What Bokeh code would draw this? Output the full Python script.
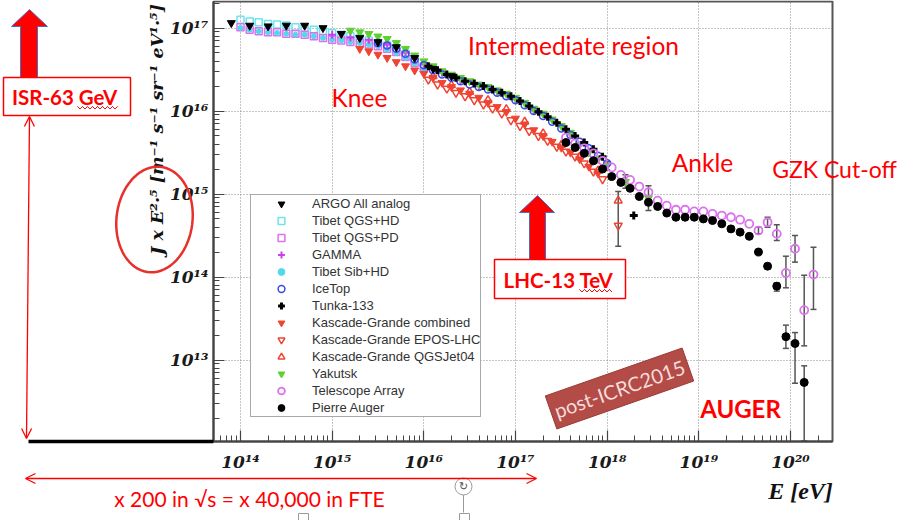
import math
import numpy as np
from bokeh.plotting import figure
from bokeh.models import (Range1d, Label, BoxAnnotation, PolyAnnotation, Arrow, OpenHead, Grid,
                          Whisker, TeeHead, Legend, LegendItem, ColumnDataSource,
                          CustomJSTickFormatter)
from bokeh.core.properties import value
from bokeh.embed import file_html
from bokeh.resources import INLINE

# ---------------- data (E in eV, flux J x E^2.5) ----------------
argo_E = [7.94e13, 1.26e14, 2.0e14, 3.16e14, 5.01e14, 7.94e14, 1.26e15, 2.0e15, 3.16e15, 5.01e15, 7.94e15, 1.26e16, 2.0e16]
argo_J = [1.15e17, 1.07e17, 1.05e17, 1.07e17, 1.07e17, 1.0e17, 8.51e16, 7.59e16, 6.76e16, 5.89e16, 4.37e16, 3.24e16, 2.63e16]

tibet_E = [1.0e14, 1.26e14, 1.58e14, 2.0e14, 2.51e14, 3.16e14, 3.98e14, 5.01e14, 6.31e14, 7.94e14, 1.0e15,
           1.26e15, 1.58e15, 2.0e15, 2.51e15, 3.16e15, 3.98e15, 5.01e15, 6.31e15, 7.94e15, 1.0e16]
tibet_qgshd_J = [1.26e17, 1.20e17, 1.17e17, 1.12e17, 1.10e17, 1.07e17, 1.02e17, 1.0e17, 9.55e16, 9.12e16, 8.71e16,
                 8.32e16, 7.94e16, 7.59e16, 7.08e16, 6.61e16, 6.17e16, 5.62e16, 4.90e16, 4.17e16, 3.47e16]
tibet_qgspd_J = [1.02e17, 9.55e16, 9.12e16, 8.91e16, 8.91e16, 8.51e16, 8.51e16, 8.32e16, 7.94e16, 7.59e16, 7.24e16,
                 7.08e16, 6.76e16, 6.61e16, 6.31e16, 6.03e16, 5.62e16, 5.13e16, 4.47e16, 3.80e16, 3.24e16]
tibet_sibhd_J = [1.0e17, 9.55e16, 9.12e16, 8.91e16, 8.71e16, 8.51e16, 8.32e16, 8.32e16, 7.94e16, 7.59e16, 7.24e16,
                 7.08e16, 6.76e16, 6.61e16, 6.31e16, 6.03e16, 5.50e16, 5.01e16, 4.37e16, 3.72e16, 3.16e16]

gamma_E = [1.0e15, 1.58e15, 2.51e15, 3.98e15, 6.31e15, 1.0e16, 1.58e16, 2.51e16, 3.98e16, 6.31e16, 1.0e17, 1.58e17]
gamma_J = [8.32e16, 7.76e16, 7.24e16, 6.46e16, 5.13e16, 3.72e16, 2.88e16, 2.34e16, 2.0e16, 1.70e16, 1.38e16, 1.02e16]

icetop_E = [3.16e15, 3.98e15, 5.01e15, 6.31e15, 7.94e15, 1.0e16, 1.26e16, 1.58e16, 2.0e16, 2.51e16, 3.16e16, 3.98e16, 5.01e16,
            6.31e16, 7.94e16, 1.0e17, 1.26e17, 1.58e17, 2.0e17, 2.51e17, 3.16e17, 3.98e17, 5.01e17, 6.31e17, 7.94e17, 1.0e18]
icetop_J = [6.61e16, 6.17e16, 5.62e16, 4.90e16, 4.17e16, 3.55e16, 3.09e16, 2.75e16, 2.51e16, 2.29e16, 2.09e16, 1.95e16, 1.82e16,
            1.66e16, 1.51e16, 1.35e16, 1.17e16, 1.0e16, 8.71e15, 7.41e15, 6.17e15, 5.13e15, 4.27e15, 3.55e15, 2.88e15, 2.34e15]

tunka_E = [1.12e16, 1.41e16, 1.78e16, 2.24e16, 2.82e16, 3.55e16, 4.47e16, 5.62e16, 7.08e16, 8.91e16, 1.12e17,
           1.41e17, 1.78e17, 2.24e17, 2.82e17, 3.55e17, 4.47e17, 5.62e17, 7.08e17, 8.91e17, 1.95e18]
tunka_J = [3.47e16, 3.09e16, 2.75e16, 2.51e16, 2.29e16, 2.14e16, 2.0e16, 1.82e16, 1.66e16, 1.51e16, 1.32e16,
           1.15e16, 9.77e15, 8.51e15, 7.24e15, 6.03e15, 5.01e15, 4.17e15, 3.47e15, 2.82e15, 5.50e14]

kg_comb_E = [2.0e15, 2.51e15, 3.16e15, 3.98e15, 5.01e15, 6.31e15, 7.94e15, 1.0e16, 1.26e16, 1.58e16, 2.0e16, 2.51e16, 3.16e16, 3.98e16,
             5.01e16, 6.31e16, 7.94e16, 1.0e17, 1.26e17, 1.58e17, 2.0e17, 2.51e17, 3.16e17, 3.98e17, 5.01e17, 6.31e17, 7.94e17]
kg_comb_J = [5.62e16, 5.25e16, 4.79e16, 4.37e16, 3.89e16, 3.47e16, 3.09e16, 2.82e16, 2.51e16, 2.19e16, 1.95e16, 1.78e16, 1.62e16, 1.45e16,
             1.26e16, 1.12e16, 9.77e15, 8.13e15, 6.92e15, 5.89e15, 5.01e15, 4.27e15, 3.63e15, 3.16e15, 2.63e15, 2.14e15, 1.78e15]

kg_epos_E = [1.12e16, 1.41e16, 1.78e16, 2.24e16, 2.82e16, 3.55e16, 4.47e16, 5.62e16, 7.08e16, 8.91e16, 1.12e17,
             1.41e17, 1.78e17, 2.24e17, 2.82e17, 3.55e17, 4.47e17, 5.62e17, 7.08e17, 8.91e17, 1.32e18]
kg_epos_J = [2.40e16, 2.09e16, 1.86e16, 1.66e16, 1.51e16, 1.35e16, 1.20e16, 1.07e16, 9.33e15, 7.76e15, 6.61e15,
             5.75e15, 5.01e15, 4.37e15, 3.72e15, 3.24e15, 2.82e15, 2.34e15, 1.86e15, 1.51e15, 4.17e14]

kg_qgs_E = [1.26e16, 2.0e16, 3.16e16, 5.01e16, 7.94e16, 1.26e17, 2.0e17, 3.16e17, 5.01e17, 7.94e17, 1.32e18]
kg_qgs_J = [2.63e16, 2.04e16, 1.70e16, 1.35e16, 1.05e16, 7.41e15, 5.37e15, 3.89e15, 2.82e15, 1.91e15, 8.32e14]

kg_err_E = [1.32e18]
kg_err_hi = [1.07e15]
kg_err_lo = [2.34e14]

yak_E = [1.58e15, 2.0e15, 2.51e15, 3.16e15, 3.98e15, 5.01e15, 6.31e15, 7.94e15, 1.0e16, 1.26e16, 1.58e16, 2.0e16, 2.51e16, 3.16e16,
         3.98e16, 5.01e16, 6.31e16, 7.94e16, 1.0e17, 1.26e17, 1.58e17, 2.0e17, 2.51e17, 3.16e17, 3.98e17, 5.01e17, 6.31e17,
         7.94e17, 1.0e18, 1.58e18, 2.82e18]
yak_J = [9.33e16, 8.91e16, 8.51e16, 7.94e16, 7.41e16, 6.61e16, 5.62e16, 4.68e16, 3.98e16, 3.47e16, 3.02e16, 2.75e16, 2.51e16, 2.29e16,
         2.09e16, 1.95e16, 1.78e16, 1.62e16, 1.45e16, 1.26e16, 1.07e16, 9.33e15, 7.94e15, 6.61e15, 5.50e15, 3.98e15, 3.16e15,
         2.63e15, 2.19e15, 1.41e15, 8.91e14]
yak_err_E = [1.0e18, 1.58e18, 2.82e18]
yak_err_hi = [2.45e15, 1.70e15, 1.26e15]
yak_err_lo = [1.95e15, 1.17e15, 6.31e14]

ta_E = [3.55e17, 4.47e17, 5.62e17, 7.08e17, 8.91e17, 1.12e18, 1.41e18, 1.78e18, 2.24e18, 2.82e18, 3.55e18, 4.47e18, 5.62e18, 7.08e18,
        8.91e18, 1.12e19, 1.41e19, 1.78e19, 2.24e19, 2.82e19, 3.55e19, 4.47e19, 5.62e19, 7.08e19, 8.91e19, 1.12e20, 1.41e20, 1.78e20]
ta_J = [4.79e15, 4.07e15, 3.55e15, 3.09e15, 2.51e15, 2.09e15, 1.70e15, 1.48e15, 1.23e15, 1.05e15, 8.32e14, 7.24e14, 6.46e14, 6.46e14,
        6.17e14, 6.17e14, 5.75e14, 5.50e14, 5.25e14, 4.90e14, 4.37e14, 3.63e14, 4.57e14, 3.31e14, 1.12e14, 2.19e14, 3.98e13, 1.07e14]
ta_err_E = [4.47e19, 5.62e19, 7.08e19, 8.91e19, 1.12e20, 1.41e20, 1.78e20]
ta_err_hi = [3.98e14, 5.25e14, 4.27e14, 1.78e14, 3.16e14, 1.05e14, 2.29e14]
ta_err_lo = [3.31e14, 3.98e14, 2.75e14, 7.41e13, 1.51e14, 1.48e13, 4.07e13]

auger_E = [3.55e17, 4.47e17, 5.62e17, 7.08e17, 8.91e17, 1.12e18, 1.41e18, 1.78e18, 2.24e18, 2.82e18, 3.55e18, 4.47e18, 5.62e18, 7.08e18,
           8.91e18, 1.12e19, 1.41e19, 1.78e19, 2.24e19, 2.82e19, 3.55e19, 4.47e19, 5.62e19, 7.08e19, 8.91e19, 1.12e20, 1.41e20]
auger_J = [4.17e15, 3.63e15, 3.09e15, 2.51e15, 2.0e15, 1.62e15, 1.38e15, 1.17e15, 9.33e14, 7.94e14, 7.08e14, 5.89e14, 5.25e14, 5.25e14,
           5.25e14, 5.01e14, 4.79e14, 4.37e14, 3.80e14, 3.47e14, 3.09e14, 2.0e14, 1.35e14, 7.76e13, 1.91e13, 1.58e13, 5.37e12]
auger_err_E = [5.62e19, 7.08e19, 8.91e19, 1.12e20, 1.41e20]
auger_err_hi = [1.45e14, 8.51e13, 2.63e13, 2.14e13, 8.51e12]
auger_err_lo = [1.26e14, 6.76e13, 1.38e13, 5.25e12, 1.06e12]

legend_labels = ["ARGO All analog", "Tibet QGS+HD", "Tibet QGS+PD", "GAMMA", "Tibet Sib+HD", "IceTop", "Tunka-133",
                 "Kascade-Grande combined", "Kascade-Grande EPOS-LHC", "Kascade-Grande QGSJet04", "Yakutsk",
                 "Telescope Array", "Pierre Auger"]

x_decades = [1e14, 1e15, 1e16, 1e17, 1e18, 1e19, 1e20]
y_decades = [1e13, 1e14, 1e15, 1e16, 1e17]


# slide-pixel helpers (slide is 899x520); used to place the chart frame and slide annotations
def ex(px):
    return 10 ** (14 + (px - 240) / 91.67)


def jy(py):
    return 10 ** (17 - (py - 27.5) / 83.0)


FL, FR, FT, FB = 213, 832, 1, 441   # chart frame on the slide

W, H = 899, 520
p = figure(width=W, height=H, x_axis_type="log", y_axis_type="log",
           x_range=Range1d(ex(0), ex(W)), y_range=Range1d(jy(H), jy(0)),
           output_backend="svg", toolbar_location=None,
           min_border_left=0, min_border_right=0, min_border_top=0, min_border_bottom=0)
p.background_fill_color = "white"
p.border_fill_color = "white"
p.outline_line_color = None

fmt = CustomJSTickFormatter(code="""
const sup = {"0":"\u2070","1":"\u00b9","2":"\u00b2","3":"\u00b3","4":"\u2074","5":"\u2075","6":"\u2076","7":"\u2077","8":"\u2078","9":"\u2079","-":"\u207b"};
const e = Math.round(Math.log10(tick));
return "10" + String(e).split("").map(c => sup[c]).join("");
""")
xa, ya = p.xaxis[0], p.yaxis[0]
xa.fixed_location = jy(FB)
ya.fixed_location = ex(FL)
xa.bounds = (ex(FL), ex(FR))
ya.bounds = (jy(FB), jy(FT))
for ax in (xa, ya):
    ax.formatter = fmt
    ax.major_label_text_font = "DejaVu Serif"
    ax.major_label_text_font_style = "bold italic"
    ax.major_label_text_font_size = "17px"
    ax.major_label_text_color = "#1a1a1a"
    ax.axis_line_color = "#444444"
    ax.axis_line_width = 2
    ax.major_tick_in = 11
    ax.major_tick_out = 0
    ax.minor_tick_in = 6
    ax.minor_tick_out = 0
    ax.major_tick_line_color = "#444444"
    ax.minor_tick_line_color = "#444444"
    ax.major_tick_line_width = 1.2
xa.major_label_standoff = 10
ya.major_label_standoff = 5

grid_ok = "cross_bounds" in Grid.properties()
for g in (p.xgrid[0], p.ygrid[0]):
    g.grid_line_color = "#8a8a8a" if grid_ok else None
    g.grid_line_dash = "1 2"
    g.grid_line_width = 1
if grid_ok:
    p.xgrid[0].bounds = (ex(FL), ex(FR))
    p.xgrid[0].cross_bounds = (jy(FB), jy(FT))
    p.ygrid[0].bounds = (jy(FB), jy(FT))
    p.ygrid[0].cross_bounds = (ex(FL), ex(FR))
else:
    p.segment(x0=x_decades, x1=x_decades, y0=[jy(FB)] * len(x_decades), y1=[jy(FT)] * len(x_decades),
              line_color="#8a8a8a", line_dash="1 2", line_width=1)
    p.segment(x0=[ex(FL)] * len(y_decades), x1=[ex(FR)] * len(y_decades), y0=y_decades, y1=y_decades,
              line_color="#8a8a8a", line_dash="1 2", line_width=1)

# chart frame
p.add_layout(BoxAnnotation(left=ex(FL), right=ex(FR), top=jy(FT), bottom=jy(FB), fill_alpha=0,
                           line_color="#555555", line_alpha=1, line_width=2, level="underlay"))

RED = "#f04433"
r_tqhd = p.scatter(tibet_E, tibet_qgshd_J, marker="square", size=7, fill_color=None, line_color="#6fe3ef", line_width=1.5)
r_tqpd = p.scatter(tibet_E, tibet_qgspd_J, marker="square", size=7, fill_color=None, line_color="#df6ff0", line_width=1.5)
r_tsib = p.scatter(tibet_E, tibet_sibhd_J, marker="circle", size=5, fill_color="#52d8e8", line_color="#52d8e8")
r_gam = p.scatter(gamma_E, gamma_J, marker="cross", size=8, line_color="#c93ef0", line_width=2)
r_kgc = p.scatter(kg_comb_E, kg_comb_J, marker="inverted_triangle", size=8, fill_color=RED, line_color=RED)
r_kge = p.scatter(kg_epos_E, kg_epos_J, marker="inverted_triangle", size=8, fill_color=None, line_color=RED, line_width=1.5)
r_kgq = p.scatter(kg_qgs_E, kg_qgs_J, marker="triangle", size=8, fill_color=None, line_color=RED, line_width=1.5)
r_yak = p.scatter(yak_E, yak_J, marker="inverted_triangle", size=8, fill_color="#5ed12e", line_color="#5ed12e")
r_ice = p.scatter(icetop_E, icetop_J, marker="circle", size=7, fill_color=None, line_color="#3a48ee", line_width=1.5)
r_tun = p.scatter(tunka_E, tunka_J, marker="cross", size=8, line_color="black", line_width=3)
r_argo = p.scatter(argo_E, argo_J, marker="inverted_triangle", size=8, fill_color="black", line_color="black")
r_ta = p.scatter(ta_E, ta_J, marker="circle", size=8, fill_color=None, line_color="#dc73ee", line_width=1.8)
r_aug = p.scatter(auger_E, auger_J, marker="circle", size=8, fill_color="black", line_color="black")

for eE, hi, lo in ((kg_err_E, kg_err_hi, kg_err_lo), (yak_err_E, yak_err_hi, yak_err_lo),
                   (ta_err_E, ta_err_hi, ta_err_lo), (auger_err_E, auger_err_hi, auger_err_lo)):
    src = ColumnDataSource(dict(base=eE, upper=hi, lower=lo))
    p.add_layout(Whisker(base="base", upper="upper", lower="lower", source=src, dimension="height",
                         line_color="#555555", line_width=1.5,
                         upper_head=TeeHead(size=6, line_color="#555555", line_width=1.5),
                         lower_head=TeeHead(size=6, line_color="#555555", line_width=1.5)))

renderers = [r_argo, r_tqhd, r_tqpd, r_gam, r_tsib, r_ice, r_tun, r_kgc, r_kge, r_kgq, r_yak, r_ta, r_aug]
legend = Legend(items=[LegendItem(label=l, renderers=[r]) for l, r in zip(legend_labels, renderers)],
                location=(250, 103), orientation="vertical",
                label_text_font="Liberation Sans", label_text_font_size="13px", label_text_color="#333333",
                glyph_width=60, glyph_height=17, label_height=17, label_standoff=1, spacing=0, padding=0,
                margin=0, border_line_color="#555555", border_line_width=1, background_fill_color="white",
                background_fill_alpha=1)
p.add_layout(legend)


# --------------- slide annotations ---------------
def pts(seq):
    return [ex(a) for a, b in seq], [jy(b) for a, b in seq]


def text(t, x, y, size, color="#ff0000", font="Lato", style="normal", angle=0.0):
    p.add_layout(Label(x=ex(x), y=jy(y), text=t, text_font=font, text_font_style=style,
                       text_font_size=f"{size}px", text_color=color, text_align="center",
                       text_baseline="middle", angle=angle))


# axis titles
text("J x E\u00b2\u00b7\u2075 [m\u207b\u00b9 s\u207b\u00b9 sr\u207b\u00b9 eV\u00b9\u00b7\u2075]", 156, 129, 17.5,
     color="#111111", font="DejaVu Serif", style="bold italic", angle=math.pi / 2)
text("E [eV]", 800, 490, 24, color="#111111", font="Liberation Serif", style="bold italic")

# ellipse around y title (slightly tilted, top leaning right)
th = np.linspace(0, 2 * np.pi, 72)
tilt = math.radians(7)
ell = [(154 + 38 * math.cos(t) * math.cos(tilt) - 53 * math.sin(t) * math.sin(tilt),
        219 + 38 * math.cos(t) * math.sin(tilt) + 53 * math.sin(t) * math.cos(tilt)) for t in th]
exs, eys = pts(ell)
p.add_layout(PolyAnnotation(xs=exs, ys=eys, fill_alpha=0, line_color="#e8302a", line_alpha=1, line_width=2.5))

# ISR block arrow and box
xs, ys = pts([(29, 9), (47, 26), (37, 26), (37, 77), (20, 77), (20, 26), (11, 26)])
p.add_layout(PolyAnnotation(xs=xs, ys=ys, fill_color="#ff0000", fill_alpha=1, line_color="#4a6fc1",
                            line_alpha=1, line_width=1))
p.add_layout(BoxAnnotation(left=ex(3), right=ex(130), top=jy(77), bottom=jy(115), fill_color="white",
                           fill_alpha=1, line_color="#ff0000", line_alpha=1, line_width=1.5))
text("ISR-63 GeV", 64, 96, 20.5, style="bold")

# LHC block arrow and box
xs, ys = pts([(537, 195), (554, 212), (545, 212), (545, 259), (529, 259), (529, 212), (519, 212)])
p.add_layout(PolyAnnotation(xs=xs, ys=ys, fill_color="#ff0000", fill_alpha=1, line_color="#4a6fc1",
                            line_alpha=1, line_width=1))
p.add_layout(BoxAnnotation(left=ex(494), right=ex(625), top=jy(259), bottom=jy(298), fill_color="white",
                           fill_alpha=1, line_color="#ff0000", line_alpha=1, line_width=1.5))
text("LHC-13 TeV", 558, 279, 20.5, style="bold")

# spell-check squiggles
for x0, x1, yy in ((77, 117, 107), (579, 613, 290)):
    zz = [(x0 + i * 2.5, yy + (1.5 if i % 2 else -1.0)) for i in range(int((x1 - x0) / 2.5) + 1)]
    xs, ys = pts(zz + zz[::-1])
    p.add_layout(PolyAnnotation(xs=xs, ys=ys, fill_alpha=0, line_color="#ff0000", line_alpha=1, line_width=0.8))

# vertical double arrow and black base line
p.add_layout(Arrow(start=OpenHead(size=10, line_color="#ff0000", line_width=1.3),
                   end=OpenHead(size=10, line_color="#ff0000", line_width=1.3),
                   x_start=ex(29), y_start=jy(116), x_end=ex(26), y_end=jy(438),
                   line_color="#ff0000", line_width=1.3))
p.add_layout(Arrow(end=None, x_start=ex(28), y_start=jy(441), x_end=ex(FL), y_end=jy(441),
                   line_color="black", line_width=3.5))

# horizontal double arrow
p.add_layout(Arrow(start=OpenHead(size=10, line_color="#ff0000", line_width=1.3),
                   end=OpenHead(size=10, line_color="#ff0000", line_width=1.3),
                   x_start=ex(25), y_start=jy(478), x_end=ex(536), y_end=jy(478),
                   line_color="#ff0000", line_width=1.3))
text("x 200 in \u221as = x 40,000 in FTE", 249, 498, 21)

# slide handle remnants
p.segment(x0=[ex(463)], y0=[jy(494)], x1=[ex(463)], y1=[jy(512)], line_color="#999999", line_width=1)
p.scatter([ex(463)], [jy(486)], marker="circle", size=17, fill_color="white", line_color="#9a9a9a", line_width=1)
p.text([ex(463)], [jy(486)], text=["\u21bb"], text_font=value("DejaVu Sans"), text_font_size="11px",
       text_color="#555555", text_align="center", text_baseline="middle")
p.scatter([ex(303), ex(464)], [jy(518), jy(518)], marker="square", size=10, fill_color="white",
          line_color="#9a9a9a", line_width=1)

# region labels
text("Intermediate region", 573, 45, 24.5)
text("Knee", 359, 97, 24.5)
text("Ankle", 702, 162, 24.5)
text("GZK Cut-off", 834, 168, 23)
text("AUGER", 740, 408, 24, style="bold")

# post-ICRC2015 tag
ang = math.radians(19.3)
p.rect(x=[ex(619)], y=[jy(388)], width=145, height=35, width_units="screen", height_units="screen",
       angle=ang, fill_color="#b34b47", line_color="#9a3a36", line_width=1)
text("post-ICRC2015", 619, 388, 20, color="#f6dcda", angle=ang)

open("out.html", "w").write(file_html(p, INLINE))
